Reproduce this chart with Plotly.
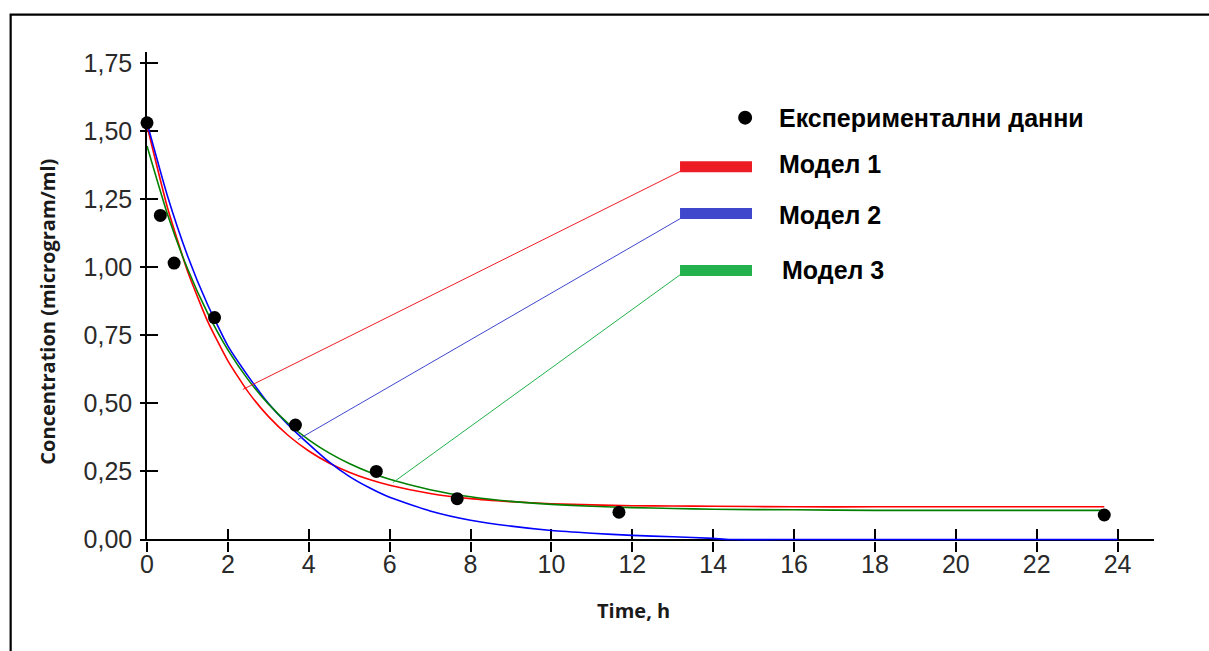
import plotly.graph_objects as go

# ---------------- data ----------------
exp_t = [0.0, 0.33, 0.67, 1.67, 3.67, 5.67, 7.67, 11.67, 23.67]
exp_c = [1.53, 1.19, 1.015, 0.815, 0.42, 0.25, 0.15, 0.10, 0.09]

t_model = [0, 0.5, 1, 1.5, 2, 2.5, 3, 3.5, 4, 4.5, 5, 5.5, 6, 7, 8, 9, 10, 11, 12,
           13, 14, 16, 18, 20, 22, 23.67]
model1 = [1.52, 1.222, 0.986, 0.801, 0.656, 0.542, 0.452, 0.381, 0.325, 0.281, 0.247,
          0.220, 0.199, 0.169, 0.150, 0.139, 0.131, 0.127, 0.124, 0.123, 0.122, 0.12,
          0.12, 0.12, 0.12, 0.12]
model3 = [1.445, 1.197, 0.995, 0.831, 0.696, 0.587, 0.498, 0.425, 0.366, 0.318, 0.279,
          0.247, 0.221, 0.183, 0.157, 0.140, 0.129, 0.122, 0.117, 0.114, 0.111, 0.109,
          0.107, 0.107, 0.107, 0.107]
t_model2 = [0, 0.5, 1, 1.5, 2, 2.5, 3, 3.5, 4, 4.5, 5, 5.5, 6, 7, 8, 9, 10, 11, 12,
            13, 14, 14.4, 16, 18, 20, 22, 24]
model2 = [1.53, 1.264, 1.043, 0.862, 0.711, 0.60, 0.50, 0.42, 0.35, 0.285, 0.232, 0.19,
          0.155, 0.105, 0.071, 0.049, 0.033, 0.023, 0.015, 0.010, 0.004, 0.0, 0.0, 0.0,
          0.0, 0.0, 0.0]

legend_labels = ["Експериментални данни", "Модел 1", "Модел 2", "Модел 3"]
x_title = "Time, h"
y_title = "Concentration (microgram/ml)"

# leader line anchor points on the curves
leader_start_t = [2.37, 3.73, 6.08]
leader_start_c = [0.551, 0.367, 0.209]

# ---------------- styles ----------------
CURVE_COLORS = ["#ff0000", "#0000ff", "#008000"]
BAR_COLORS = ["#ed1c24", "#3f48cc", "#22b14c"]
TICK_FONT = dict(family="Liberation Sans, Arial, sans-serif", size=25, color="#2a2a2a")
TITLE_FONT = dict(family="Open Sans, sans-serif", size=20, color="#1a1a1a", weight="bold")
LEG_FONT = dict(family="Liberation Sans, Arial, sans-serif", size=25, color="#000000",
                weight="bold")

fig = go.Figure()

for t, y, col in [(t_model, model1, CURVE_COLORS[0]),
                  (t_model2, model2, CURVE_COLORS[1]),
                  (t_model, model3, CURVE_COLORS[2])]:
    fig.add_trace(go.Scatter(x=t, y=y, mode="lines",
                             line=dict(color=col, width=1.6, shape="spline", smoothing=0.5),
                             cliponaxis=False, hoverinfo="skip", showlegend=False,
                             xaxis="x2", yaxis="y2"))

fig.add_trace(go.Scatter(x=exp_t, y=exp_c, mode="markers",
                         marker=dict(color="black", size=13, line=dict(width=0)),
                         cliponaxis=False, showlegend=False, xaxis="x2", yaxis="y2"))

# ---------------- custom legend ----------------
LX0, LX1 = 13.18, 14.96
bar_y = [1.369, 1.197, 0.988]
leader_end_y = [1.355, 1.182, 0.977]
text_y = [1.549, 1.377, 1.193, 0.988]
text_x = [15.58, 15.58, 15.58, 15.65]
dot_x, dot_y = 14.79, 1.549

shapes = []
for i in range(3):
    shapes.append(dict(type="line", xref="x", yref="y", x0=leader_start_t[i],
                       y0=leader_start_c[i], x1=LX0 + 0.05, y1=leader_end_y[i],
                       line=dict(color=BAR_COLORS[i], width=1)))
    shapes.append(dict(type="line", xref="x", yref="y", x0=LX0, y0=bar_y[i], x1=LX1,
                       y1=bar_y[i], line=dict(color=BAR_COLORS[i], width=11)))
shapes.append(dict(type="circle", xref="x", yref="y", xsizemode="pixel",
                   ysizemode="pixel", xanchor=dot_x, yanchor=dot_y, x0=-7, x1=7,
                   y0=-7, y1=7, fillcolor="black", line=dict(width=0)))
# outer frame
shapes.append(dict(type="rect", xref="paper", yref="paper", x0=-0.1354, x1=1.08,
                   y0=-0.3, y1=1.0764, line=dict(color="black", width=2.2),
                   fillcolor="rgba(0,0,0,0)", layer="above"))

annotations = []
for i, lab in enumerate(legend_labels):
    annotations.append(dict(x=text_x[i], y=text_y[i], xref="x", yref="y", text=lab,
                            showarrow=False, xanchor="left", yanchor="middle",
                            font=LEG_FONT))
annotations.append(dict(x=0.4836, y=-0.1414, xref="paper", yref="paper", text=x_title,
                        showarrow=False, xanchor="center", yanchor="middle",
                        font=TITLE_FONT))
annotations.append(dict(x=-0.0983, y=0.469, xref="paper", yref="paper", text=y_title,
                        showarrow=False, textangle=-90, xanchor="center",
                        yanchor="middle", font=TITLE_FONT))

XR = [0, 24.9]
YR = [-0.0055, 1.79]
fig.update_layout(
    width=1209, height=651,
    margin=dict(l=147, r=55, t=52, b=110),
    paper_bgcolor="white", plot_bgcolor="white",
    separators=",.",
    showlegend=False,
    shapes=shapes, annotations=annotations,
    xaxis=dict(range=XR, showgrid=False, zeroline=False, showline=False,
               ticks="outside", ticklen=10,
               tickwidth=1.5, tickcolor="black", dtick=2, tick0=0,
               tickfont=TICK_FONT, ticklabelstandoff=-9, layer="below traces",
               fixedrange=True),
    yaxis=dict(range=YR, showgrid=False, zeroline=True, zerolinecolor="black",
               zerolinewidth=1.5, showline=True,
               linecolor="black", linewidth=1.5, ticks="outside", ticklen=5,
               tickwidth=1.5, tickcolor="black", dtick=0.25, tick0=0,
               tickformat=".2f", tickfont=TICK_FONT, ticklabelstandoff=3,
               layer="below traces", fixedrange=True),
    xaxis2=dict(range=XR, overlaying="x", anchor="y2", showgrid=False, zeroline=False,
                showline=False, ticks="inside", ticklen=12, tickwidth=1.5,
                tickcolor="black", dtick=2, tick0=0, showticklabels=False,
                layer="below traces", fixedrange=True),
    yaxis2=dict(range=YR, overlaying="y", anchor="x2", showgrid=False, zeroline=False,
                showline=False, ticks="inside", ticklen=11, tickwidth=1.5,
                tickcolor="black", dtick=0.25, tick0=0, showticklabels=False,
                side="left", layer="below traces", fixedrange=True),
)

fig.write_html("out.html")
